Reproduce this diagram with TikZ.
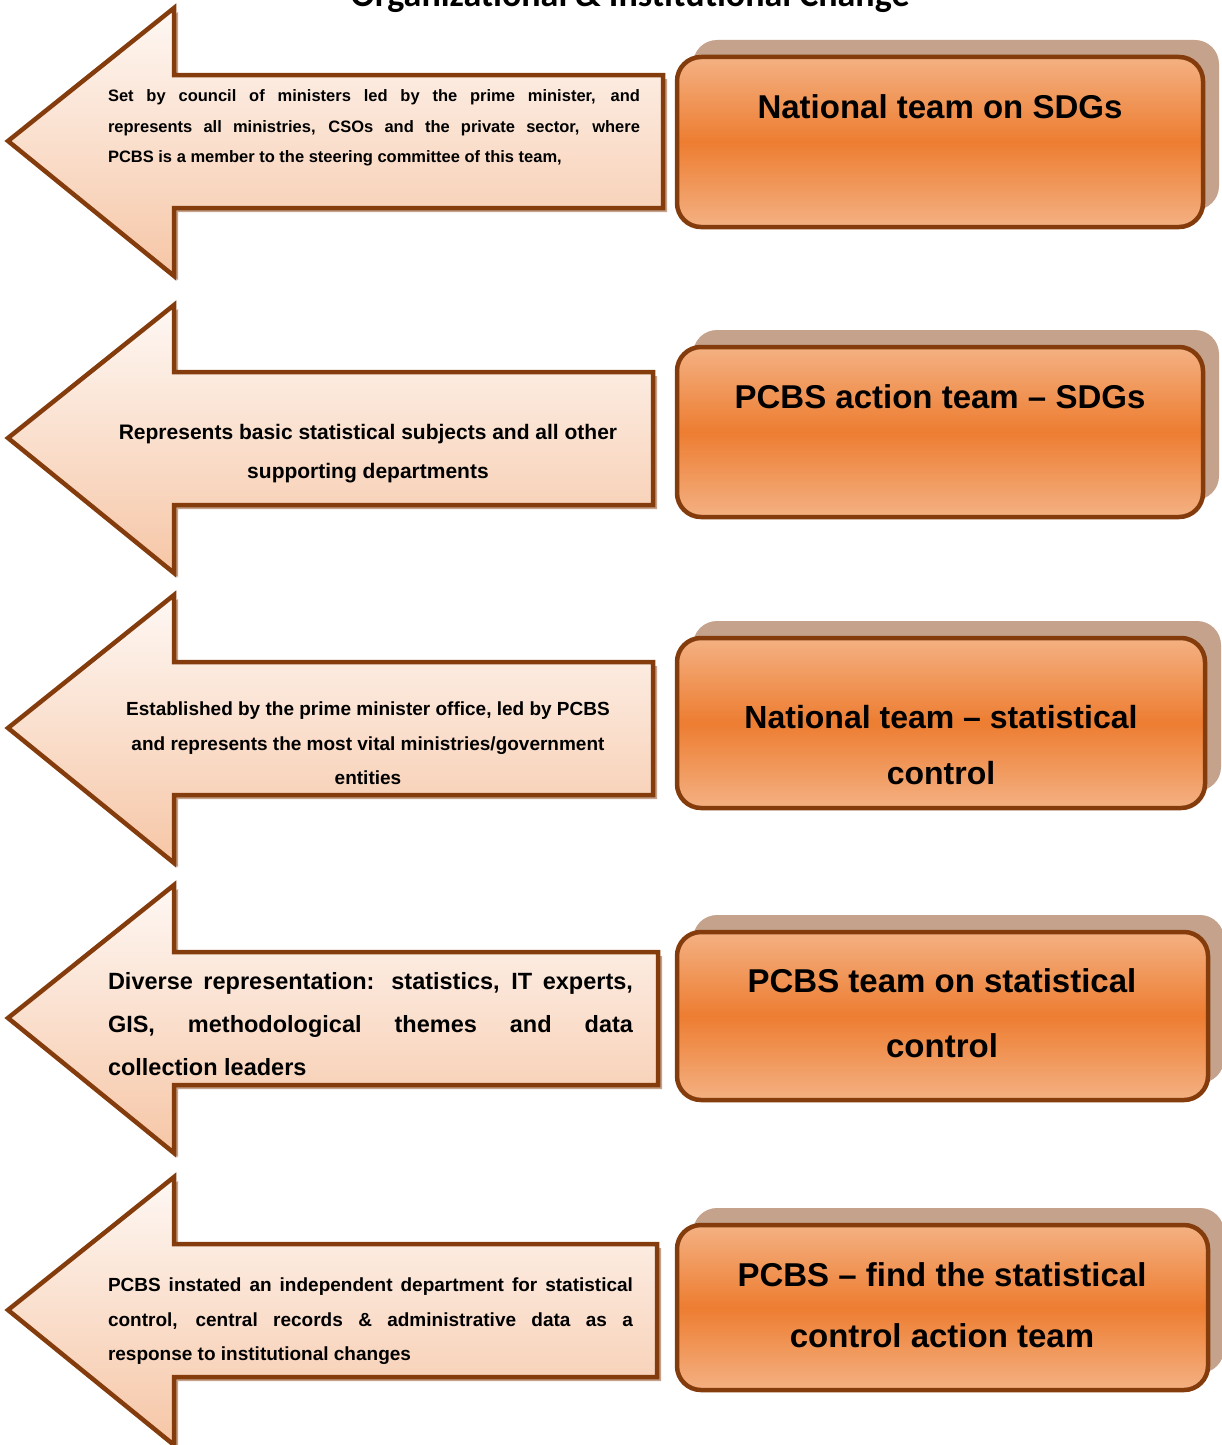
\documentclass[tikz,border=0pt]{standalone}
\usepackage{fontspec}
\setmainfont{Liberation Sans}
\newfontfamily\titlefont{Carlito}
\usepackage{xcolor}
\usepackage{tikz}
\usetikzlibrary{positioning,shadows}
\definecolor{rimbrown}{RGB}{132,60,12}
\definecolor{peachtop}{RGB}{254,248,244}
\definecolor{peachbot}{RGB}{246,198,166}
\definecolor{orangeedge}{RGB}{244,177,131}
\definecolor{orangemid}{RGB}{237,125,49}
\definecolor{shadowtan}{RGB}{196,162,140}
\newcommand{\notearrow}[2]{% #1 top of head, #2 right end of shaft
  \draw[arrowbody] (8,#1+133) -- (174,#1) -- (174,#1+67) -- (#2,#1+67)
    -- (#2,#1+200) -- (174,#1+200) -- (174,#1+268) -- cycle;
}
\tikzset{
  arrowbody/.style={draw=rimbrown,line width=4.5pt,line join=miter,top color=peachtop,bottom color=peachbot,
    drop shadow={shadow xshift=4pt,shadow yshift=-4pt,fill=shadowtan,opacity=1}},
  teambox/.style={draw=rimbrown,line width=4.5pt,rounded corners=24pt,shading=axis,top color=orangeedge,bottom color=orangeedge,middle color=orangemid,
    drop shadow={shadow xshift=16pt,shadow yshift=17pt,fill=shadowtan,opacity=1}},
  notetext/.style={inner sep=0pt,text=black},
  teamtext/.style={inner sep=0pt,align=center,text=black,font=\fontsize{33}{60}\selectfont\bfseries}
}
\begin{document}
\begin{tikzpicture}[x=1pt,y=-1pt]
  \useasboundingbox (0,0) rectangle (1222,1445);
  \node[anchor=base,font=\titlefont\bfseries\fontsize{36}{42}\selectfont] (title) at (630,7) {Organizational \& Institutional Change};
  % left arrows
  \notearrow{8}{663}
  \notearrow{305}{653}
  \notearrow{595}{653}
  \notearrow{885}{658}
  \notearrow{1177}{657}
  \node[notetext,text width=532pt,align=justify,font=\fontsize{16.5}{30.5}\selectfont\bfseries] (note1) at (374,128)
    {Set by council of ministers led by the prime minister, and\linebreak represents all ministries, CSOs and the private sector, where\linebreak PCBS is a member to the steering committee of this team,};
  \node[notetext,align=center,font=\fontsize{21}{39}\selectfont\bfseries] (note2) at (368,453.5)
    {Represents basic statistical subjects and all other\\supporting departments};
  \node[notetext,align=center,font=\fontsize{19}{34.5}\selectfont\bfseries] (note3) at (368,743.5)
    {Established by the prime minister office, led by PCBS\\and represents the most vital ministries/government\\entities};
  \node[notetext,text width=525pt,align=justify,font=\fontsize{23.5}{43}\selectfont\bfseries] (note4) at (370.5,1024)
    {Diverse representation: statistics, IT experts,\linebreak GIS, methodological themes and data\linebreak collection leaders};
  \node[notetext,text width=525pt,align=justify,font=\fontsize{19}{34.5}\selectfont\bfseries] (note5) at (370.5,1321.5)
    {PCBS instated an independent department for statistical\linebreak control, central records \& administrative data as a\linebreak response to institutional changes};
  % team boxes
  \node[teambox,minimum width=526pt,minimum height=170pt] (team1) at (940,142) {};
  \node[teambox,minimum width=526pt,minimum height=170pt] (team2) at (940,432) {};
  \node[teambox,minimum width=528pt,minimum height=170pt] (team3) at (941,723) {};
  \node[teambox,minimum width=531pt,minimum height=168pt] (team4) at (942.5,1016) {};
  \node[teambox,minimum width=531pt,minimum height=165pt] (team5) at (942.5,1307.5) {};
  \node[teamtext] (label1) at (940,107) {National team on SDGs};
  \node[teamtext] (label2) at (940,397) {PCBS action team – SDGs};
  \node[teamtext,font=\fontsize{32}{56}\selectfont\bfseries] (label3) at (941,745) {National team – statistical\\control};
  \node[teamtext,font=\fontsize{33}{65}\selectfont\bfseries] (label4) at (942,1013.5) {PCBS team on statistical\\control};
  \node[teamtext,font=\fontsize{33}{61}\selectfont\bfseries] (label5) at (942,1305.5) {PCBS – find the statistical\\control action team};
\end{tikzpicture}
\end{document}
